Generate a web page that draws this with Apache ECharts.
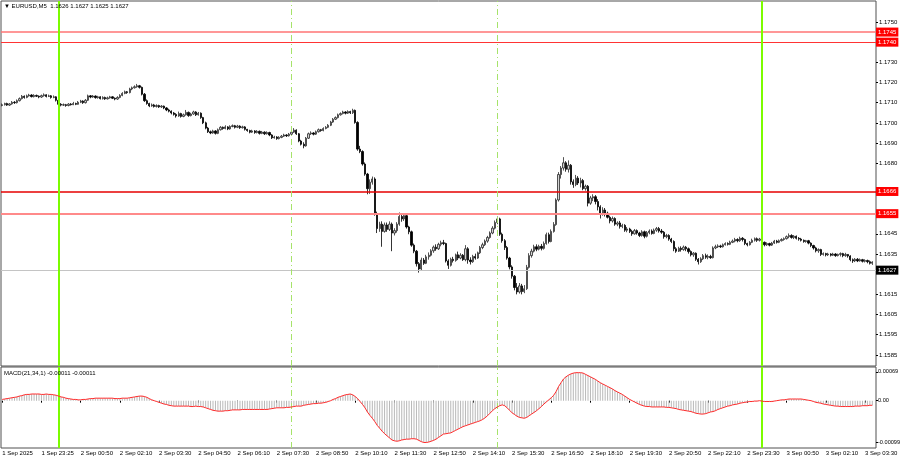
<!DOCTYPE html>
<html><head><meta charset="utf-8">
<script src="https://cdn.jsdelivr.net/npm/echarts@6/dist/echarts.min.js"></script>
<style>html,body{margin:0;padding:0;background:#fff}#c{width:900px;height:460px}</style>
</head><body><div id="c"></div>
<script>
// ---------- data ----------
const symbolTitle = 'EURUSD,M5';
const lastBar = [1.1626, 1.1627, 1.1625, 1.1627];      // O H L C of the last bar (header)
const macdTitle = 'MACD(21,34,1)';
const macdLast = [-0.00011, -0.00011];
const firstBarUTC = [2025, 8, 1, 22, 5];              // 1 Sep 2025 22:05
const missingBarUTC = [2025, 8, 2, 0, 5];             // bar absent from the feed
const priceTicks = [1.1750, 1.1730, 1.1720, 1.1710, 1.1700, 1.1690, 1.1680, 1.1645, 1.1635, 1.1615, 1.1605, 1.1595, 1.1585];
const macdTicks = [0.00069, 0, -0.00099];
const levelLines = [1.1745, 1.1740, 1.1666, 1.1655];
const bidPrice = 1.1627;
const dayLines = ['2 Sep 00:00', '3 Sep 00:00'];
const sessionLines = ['2 Sep 08:00', '2 Sep 15:00'];
// bars: [open, high, low, close]
const bars = [
[1.17086,1.17096,1.17082,1.17090],[1.17090,1.17100,1.17086,1.17096],[1.17096,1.17100,1.17084,1.17088],[1.17088,1.17098,1.17084,1.17094],
[1.17094,1.17108,1.17090,1.17102],[1.17102,1.17108,1.17094,1.17100],[1.17100,1.17116,1.17096,1.17110],[1.17110,1.17126,1.17106,1.17120],
[1.17120,1.17138,1.17116,1.17132],[1.17132,1.17136,1.17120,1.17126],[1.17126,1.17140,1.17122,1.17134],[1.17134,1.17144,1.17130,1.17138],
[1.17138,1.17142,1.17126,1.17130],[1.17130,1.17142,1.17126,1.17136],[1.17136,1.17140,1.17128,1.17132],[1.17132,1.17136,1.17122,1.17128],
[1.17128,1.17140,1.17124,1.17135],[1.17135,1.17146,1.17130,1.17139],[1.17139,1.17142,1.17126,1.17131],[1.17131,1.17140,1.17128,1.17134],
[1.17134,1.17138,1.17120,1.17126],[1.17126,1.17136,1.17122,1.17129],[1.17129,1.17132,1.17106,1.17112],[1.17112,1.17116,1.17086,1.17092],
[1.17092,1.17098,1.17082,1.17088],[1.17088,1.17096,1.17084,1.17090],[1.17090,1.17094,1.17080,1.17086],[1.17086,1.17098,1.17082,1.17093],
[1.17093,1.17098,1.17086,1.17090],[1.17090,1.17104,1.17088,1.17096],[1.17096,1.17100,1.17088,1.17092],[1.17092,1.17108,1.17090,1.17102],
[1.17102,1.17114,1.17098,1.17108],[1.17108,1.17112,1.17094,1.17100],[1.17100,1.17118,1.17096,1.17112],[1.17112,1.17140,1.17108,1.17134],
[1.17134,1.17138,1.17122,1.17128],[1.17128,1.17138,1.17124,1.17133],[1.17133,1.17136,1.17120,1.17125],[1.17125,1.17134,1.17120,1.17129],
[1.17129,1.17132,1.17116,1.17120],[1.17120,1.17132,1.17116,1.17126],[1.17126,1.17130,1.17114,1.17119],[1.17119,1.17130,1.17116,1.17124],
[1.17124,1.17134,1.17120,1.17129],[1.17129,1.17132,1.17118,1.17122],[1.17122,1.17126,1.17112,1.17118],[1.17118,1.17132,1.17114,1.17126],
[1.17126,1.17142,1.17122,1.17136],[1.17136,1.17152,1.17132,1.17146],[1.17146,1.17160,1.17142,1.17154],[1.17154,1.17158,1.17144,1.17150],
[1.17150,1.17174,1.17146,1.17168],[1.17168,1.17180,1.17162,1.17174],[1.17174,1.17186,1.17170,1.17179],[1.17179,1.17193,1.17174,1.17184],
[1.17184,1.17188,1.17170,1.17176],[1.17176,1.17180,1.17136,1.17142],[1.17142,1.17148,1.17104,1.17110],[1.17110,1.17116,1.17090,1.17096],
[1.17096,1.17100,1.17078,1.17084],[1.17084,1.17096,1.17080,1.17089],[1.17089,1.17094,1.17076,1.17081],[1.17081,1.17092,1.17076,1.17086],
[1.17086,1.17090,1.17074,1.17079],[1.17079,1.17088,1.17074,1.17083],[1.17083,1.17086,1.17068,1.17074],[1.17074,1.17078,1.17058,1.17064],
[1.17064,1.17070,1.17052,1.17058],[1.17058,1.17062,1.17042,1.17049],[1.17049,1.17054,1.17036,1.17042],[1.17042,1.17048,1.17026,1.17034],
[1.17034,1.17056,1.17030,1.17046],[1.17046,1.17050,1.17026,1.17032],[1.17032,1.17046,1.17028,1.17040],[1.17040,1.17064,1.17036,1.17052],
[1.17052,1.17056,1.17030,1.17036],[1.17036,1.17050,1.17032,1.17044],[1.17044,1.17060,1.17040,1.17054],[1.17054,1.17058,1.17034,1.17040],
[1.17040,1.17054,1.17036,1.17048],[1.17048,1.17052,1.17020,1.17026],[1.17026,1.17030,1.16994,1.17000],[1.17000,1.17006,1.16968,1.16974],
[1.16974,1.16980,1.16950,1.16956],[1.16956,1.16962,1.16944,1.16950],[1.16950,1.16966,1.16946,1.16960],[1.16960,1.16964,1.16942,1.16948],
[1.16948,1.16972,1.16944,1.16966],[1.16966,1.16984,1.16962,1.16978],[1.16978,1.16982,1.16966,1.16972],[1.16972,1.16988,1.16968,1.16980],
[1.16980,1.16984,1.16964,1.16970],[1.16970,1.16988,1.16966,1.16982],[1.16982,1.16992,1.16978,1.16986],[1.16986,1.16990,1.16972,1.16978],
[1.16978,1.16990,1.16974,1.16984],[1.16984,1.16988,1.16970,1.16976],[1.16976,1.16986,1.16972,1.16980],[1.16980,1.16984,1.16962,1.16968],
[1.16968,1.16970,1.16956,1.16962],[1.16962,1.16966,1.16948,1.16954],[1.16954,1.16966,1.16950,1.16960],[1.16960,1.16964,1.16946,1.16952],
[1.16952,1.16964,1.16948,1.16958],[1.16958,1.16962,1.16942,1.16948],[1.16948,1.16960,1.16944,1.16954],[1.16954,1.16958,1.16940,1.16946],
[1.16946,1.16958,1.16942,1.16952],[1.16952,1.16956,1.16934,1.16940],[1.16940,1.16944,1.16920,1.16926],[1.16926,1.16936,1.16922,1.16930],
[1.16930,1.16934,1.16916,1.16922],[1.16922,1.16934,1.16918,1.16928],[1.16928,1.16940,1.16924,1.16934],[1.16934,1.16946,1.16930,1.16940],
[1.16940,1.16944,1.16930,1.16936],[1.16936,1.16950,1.16932,1.16944],[1.16944,1.16960,1.16940,1.16954],[1.16954,1.16974,1.16950,1.16964],
[1.16964,1.16968,1.16940,1.16946],[1.16946,1.16950,1.16904,1.16910],[1.16910,1.16916,1.16888,1.16894],[1.16894,1.16904,1.16874,1.16886],
[1.16886,1.16930,1.16882,1.16924],[1.16924,1.16952,1.16920,1.16946],[1.16946,1.16958,1.16940,1.16950],[1.16950,1.16954,1.16938,1.16944],
[1.16944,1.16962,1.16940,1.16956],[1.16956,1.16972,1.16952,1.16966],[1.16966,1.16970,1.16956,1.16962],[1.16962,1.16978,1.16958,1.16972],
[1.16972,1.16984,1.16968,1.16978],[1.16978,1.16994,1.16974,1.16988],[1.16988,1.17010,1.16984,1.17004],[1.17004,1.17024,1.17000,1.17018],
[1.17018,1.17032,1.17014,1.17026],[1.17026,1.17046,1.17022,1.17040],[1.17040,1.17052,1.17036,1.17046],[1.17046,1.17060,1.17042,1.17054],
[1.17054,1.17058,1.17042,1.17048],[1.17048,1.17062,1.17044,1.17056],[1.17056,1.17060,1.17044,1.17050],[1.17050,1.17070,1.17044,1.17062],
[1.17062,1.17066,1.16996,1.17002],[1.17002,1.17008,1.16862,1.16870],[1.16870,1.16886,1.16850,1.16858],[1.16858,1.16864,1.16788,1.16796],
[1.16796,1.16804,1.16738,1.16746],[1.16746,1.16752,1.16646,1.16674],[1.16674,1.16720,1.16648,1.16706],[1.16706,1.16734,1.16694,1.16722],
[1.16722,1.16730,1.16540,1.16550],[1.16550,1.16560,1.16454,1.16476],[1.16476,1.16510,1.16460,1.16498],[1.16498,1.16512,1.16386,1.16462],
[1.16462,1.16506,1.16456,1.16494],[1.16494,1.16506,1.16460,1.16472],[1.16472,1.16512,1.16464,1.16498],[1.16498,1.16506,1.16364,1.16454],
[1.16454,1.16478,1.16442,1.16466],[1.16466,1.16508,1.16456,1.16498],[1.16498,1.16556,1.16490,1.16536],[1.16536,1.16546,1.16510,1.16524],
[1.16524,1.16550,1.16514,1.16540],[1.16540,1.16546,1.16476,1.16484],[1.16484,1.16490,1.16448,1.16460],[1.16460,1.16466,1.16386,1.16394],
[1.16394,1.16402,1.16354,1.16364],[1.16364,1.16370,1.16288,1.16302],[1.16302,1.16310,1.16258,1.16276],[1.16276,1.16332,1.16270,1.16320],
[1.16320,1.16330,1.16296,1.16304],[1.16304,1.16346,1.16300,1.16336],[1.16336,1.16358,1.16322,1.16344],[1.16344,1.16374,1.16338,1.16366],
[1.16366,1.16392,1.16356,1.16384],[1.16384,1.16398,1.16366,1.16376],[1.16376,1.16406,1.16370,1.16398],[1.16398,1.16416,1.16388,1.16406],
[1.16406,1.16420,1.16394,1.16402],[1.16402,1.16406,1.16308,1.16316],[1.16316,1.16324,1.16276,1.16294],[1.16294,1.16332,1.16288,1.16324],
[1.16324,1.16336,1.16308,1.16318],[1.16318,1.16352,1.16312,1.16346],[1.16346,1.16362,1.16320,1.16330],[1.16330,1.16354,1.16324,1.16344],
[1.16344,1.16350,1.16316,1.16322],[1.16322,1.16394,1.16314,1.16376],[1.16376,1.16384,1.16302,1.16320],[1.16320,1.16334,1.16298,1.16312],
[1.16312,1.16346,1.16306,1.16338],[1.16338,1.16352,1.16322,1.16330],[1.16330,1.16362,1.16326,1.16356],[1.16356,1.16390,1.16350,1.16382],
[1.16382,1.16406,1.16374,1.16396],[1.16396,1.16422,1.16390,1.16414],[1.16414,1.16440,1.16406,1.16432],[1.16432,1.16462,1.16426,1.16454],
[1.16454,1.16488,1.16448,1.16478],[1.16478,1.16516,1.16472,1.16506],[1.16506,1.16536,1.16498,1.16524],[1.16524,1.16530,1.16440,1.16448],
[1.16448,1.16456,1.16406,1.16416],[1.16416,1.16424,1.16370,1.16382],[1.16382,1.16390,1.16322,1.16330],[1.16330,1.16336,1.16274,1.16286],
[1.16286,1.16294,1.16228,1.16240],[1.16240,1.16246,1.16170,1.16184],[1.16184,1.16206,1.16150,1.16162],[1.16162,1.16206,1.16154,1.16192],
[1.16192,1.16202,1.16150,1.16164],[1.16164,1.16196,1.16156,1.16178],[1.16178,1.16296,1.16172,1.16284],[1.16284,1.16354,1.16278,1.16342],
[1.16342,1.16376,1.16332,1.16364],[1.16364,1.16396,1.16358,1.16386],[1.16386,1.16398,1.16364,1.16374],[1.16374,1.16396,1.16368,1.16388],
[1.16388,1.16400,1.16368,1.16378],[1.16378,1.16412,1.16372,1.16402],[1.16402,1.16456,1.16396,1.16446],[1.16446,1.16456,1.16402,1.16412],
[1.16412,1.16472,1.16408,1.16462],[1.16462,1.16508,1.16456,1.16496],[1.16496,1.16626,1.16490,1.16618],[1.16618,1.16756,1.16610,1.16744],
[1.16744,1.16786,1.16724,1.16776],[1.16776,1.16830,1.16764,1.16802],[1.16802,1.16810,1.16758,1.16770],[1.16770,1.16814,1.16754,1.16790],
[1.16790,1.16796,1.16694,1.16708],[1.16708,1.16720,1.16678,1.16694],[1.16694,1.16742,1.16686,1.16726],[1.16726,1.16736,1.16692,1.16702],
[1.16702,1.16728,1.16680,1.16714],[1.16714,1.16722,1.16666,1.16674],[1.16674,1.16694,1.16664,1.16686],[1.16686,1.16692,1.16586,1.16602],
[1.16602,1.16638,1.16594,1.16628],[1.16628,1.16646,1.16612,1.16634],[1.16634,1.16642,1.16596,1.16610],[1.16610,1.16622,1.16566,1.16584],
[1.16584,1.16592,1.16526,1.16546],[1.16546,1.16582,1.16540,1.16568],[1.16568,1.16578,1.16536,1.16552],[1.16552,1.16560,1.16526,1.16532],
[1.16532,1.16540,1.16502,1.16514],[1.16514,1.16536,1.16506,1.16526],[1.16526,1.16532,1.16490,1.16498],[1.16498,1.16512,1.16488,1.16504],
[1.16504,1.16514,1.16476,1.16486],[1.16486,1.16500,1.16478,1.16492],[1.16492,1.16498,1.16460,1.16468],[1.16468,1.16484,1.16458,1.16474],
[1.16474,1.16480,1.16454,1.16462],[1.16462,1.16470,1.16440,1.16450],[1.16450,1.16474,1.16446,1.16466],[1.16466,1.16472,1.16446,1.16454],
[1.16454,1.16460,1.16434,1.16442],[1.16442,1.16468,1.16436,1.16460],[1.16460,1.16466,1.16428,1.16438],[1.16438,1.16464,1.16432,1.16456],
[1.16456,1.16472,1.16448,1.16464],[1.16464,1.16472,1.16446,1.16452],[1.16452,1.16476,1.16448,1.16468],[1.16468,1.16484,1.16460,1.16476],
[1.16476,1.16484,1.16456,1.16464],[1.16464,1.16474,1.16450,1.16458],[1.16458,1.16464,1.16426,1.16436],[1.16436,1.16450,1.16428,1.16442],
[1.16442,1.16448,1.16416,1.16424],[1.16424,1.16430,1.16404,1.16412],[1.16412,1.16418,1.16364,1.16376],[1.16376,1.16384,1.16356,1.16364],
[1.16364,1.16386,1.16360,1.16378],[1.16378,1.16388,1.16362,1.16372],[1.16372,1.16392,1.16366,1.16384],[1.16384,1.16390,1.16364,1.16376],
[1.16376,1.16382,1.16352,1.16362],[1.16362,1.16368,1.16338,1.16346],[1.16346,1.16360,1.16336,1.16354],[1.16354,1.16358,1.16316,1.16324],
[1.16324,1.16330,1.16298,1.16312],[1.16312,1.16334,1.16306,1.16326],[1.16326,1.16350,1.16320,1.16342],[1.16342,1.16352,1.16326,1.16334],
[1.16334,1.16348,1.16324,1.16338],[1.16338,1.16346,1.16326,1.16332],[1.16332,1.16388,1.16328,1.16380],[1.16380,1.16396,1.16374,1.16386],
[1.16386,1.16398,1.16380,1.16390],[1.16390,1.16396,1.16380,1.16386],[1.16386,1.16402,1.16382,1.16396],[1.16396,1.16408,1.16392,1.16402],
[1.16402,1.16408,1.16392,1.16398],[1.16398,1.16416,1.16394,1.16408],[1.16408,1.16422,1.16404,1.16414],[1.16414,1.16430,1.16408,1.16422],
[1.16422,1.16428,1.16408,1.16416],[1.16416,1.16436,1.16410,1.16428],[1.16428,1.16434,1.16412,1.16422],[1.16422,1.16426,1.16394,1.16402],
[1.16402,1.16406,1.16388,1.16396],[1.16396,1.16414,1.16392,1.16408],[1.16408,1.16426,1.16404,1.16418],[1.16418,1.16432,1.16412,1.16426],
[1.16426,1.16432,1.16410,1.16418],[1.16418,1.16430,1.16412,1.16424],[1.16424,1.16428,1.16400,1.16408],[1.16408,1.16412,1.16388,1.16396],
[1.16396,1.16408,1.16390,1.16402],[1.16402,1.16406,1.16388,1.16394],[1.16394,1.16410,1.16390,1.16404],[1.16404,1.16420,1.16400,1.16414],
[1.16414,1.16420,1.16402,1.16408],[1.16408,1.16422,1.16404,1.16416],[1.16416,1.16428,1.16412,1.16422],[1.16422,1.16432,1.16416,1.16426],
[1.16426,1.16442,1.16422,1.16436],[1.16436,1.16452,1.16428,1.16442],[1.16442,1.16448,1.16426,1.16432],[1.16432,1.16444,1.16424,1.16438],
[1.16438,1.16442,1.16422,1.16428],[1.16428,1.16434,1.16416,1.16424],[1.16424,1.16430,1.16412,1.16418],[1.16418,1.16422,1.16406,1.16412],
[1.16412,1.16420,1.16406,1.16416],[1.16416,1.16420,1.16398,1.16404],[1.16404,1.16408,1.16384,1.16392],[1.16392,1.16396,1.16372,1.16380],
[1.16380,1.16386,1.16358,1.16366],[1.16366,1.16378,1.16356,1.16372],[1.16372,1.16376,1.16340,1.16348],[1.16348,1.16358,1.16342,1.16352],
[1.16352,1.16356,1.16338,1.16346],[1.16346,1.16356,1.16340,1.16350],[1.16350,1.16354,1.16338,1.16344],[1.16344,1.16356,1.16340,1.16350],
[1.16350,1.16354,1.16336,1.16342],[1.16342,1.16352,1.16338,1.16348],[1.16348,1.16358,1.16338,1.16352],[1.16352,1.16356,1.16334,1.16342],
[1.16342,1.16356,1.16336,1.16348],[1.16348,1.16350,1.16332,1.16340],[1.16340,1.16344,1.16314,1.16322],[1.16322,1.16328,1.16306,1.16316],
[1.16316,1.16330,1.16310,1.16324],[1.16324,1.16330,1.16310,1.16316],[1.16316,1.16328,1.16312,1.16322],[1.16322,1.16326,1.16308,1.16314],
[1.16314,1.16324,1.16308,1.16318],[1.16318,1.16322,1.16304,1.16312],[1.16312,1.16318,1.16298,1.16304],[1.16304,1.16314,1.16296,1.16310]
];
// MACD(21,34,1) main value per bar (signal with period 1 equals it)
const macd = [
0.00003,0.00004,0.00005,0.00006,0.00007,0.00008,0.00009,0.00011,0.00012,0.00014,
0.00015,0.00015,0.00016,0.00016,0.00016,0.00016,0.00015,0.00015,0.00016,0.00015,
0.00015,0.00014,0.00013,0.00011,0.00009,0.00008,0.00006,0.00005,0.00004,0.00003,
0.00003,0.00002,0.00002,0.00003,0.00003,0.00004,0.00005,0.00005,0.00006,0.00006,
0.00006,0.00006,0.00006,0.00006,0.00006,0.00006,0.00005,0.00005,0.00005,0.00006,
0.00006,0.00006,0.00007,0.00008,0.00009,0.00010,0.00011,0.00011,0.00010,0.00008,
0.00005,0.00002,0,-0.00002,-0.00004,-0.00006,-0.00008,-0.00009,-0.00011,-0.00012,
-0.00013,-0.00013,-0.00013,-0.00013,-0.00013,-0.00013,-0.00013,-0.00014,-0.00014,-0.00013,
-0.00014,-0.00014,-0.00015,-0.00017,-0.00019,-0.00021,-0.00023,-0.00024,-0.00025,-0.00025,
-0.00025,-0.00024,-0.00024,-0.00023,-0.00022,-0.00022,-0.00022,-0.00022,-0.00021,-0.00021,
-0.00021,-0.00021,-0.00021,-0.00021,-0.00021,-0.00021,-0.00021,-0.00021,-0.00021,-0.00020,
-0.00019,-0.00018,-0.00017,-0.00017,-0.00017,-0.00017,-0.00016,-0.00016,-0.00015,-0.00014,
-0.00013,-0.00013,-0.00013,-0.00011,-0.00010,-0.00009,-0.00008,-0.00007,-0.00007,-0.00006,
-0.00006,-0.00005,-0.00004,-0.00002,0,0.00003,0.00005,0.00008,0.00010,0.00012,
0.00014,0.00015,0.00016,0.00014,0.00010,0.00005,-0.00002,-0.00009,-0.00017,-0.00027,
-0.00035,-0.00042,-0.00050,-0.00059,-0.00066,-0.00073,-0.00079,-0.00084,-0.00089,-0.00094,
-0.00096,-0.00097,-0.00096,-0.00094,-0.00093,-0.00092,-0.00092,-0.00091,-0.00091,-0.00092,
-0.00095,-0.00098,-0.00100,-0.00100,-0.00099,-0.00097,-0.00095,-0.00092,-0.00088,-0.00084,
-0.00080,-0.00079,-0.00078,-0.00077,-0.00074,-0.00071,-0.00068,-0.00065,-0.00062,-0.00060,
-0.00058,-0.00056,-0.00054,-0.00052,-0.00050,-0.00048,-0.00045,-0.00041,-0.00036,-0.00030,
-0.00024,-0.00019,-0.00015,-0.00012,-0.00010,-0.00012,-0.00017,-0.00023,-0.00029,-0.00033,
-0.00037,-0.00040,-0.00041,-0.00042,-0.00040,-0.00036,-0.00032,-0.00028,-0.00024,-0.00019,
-0.00014,-0.00008,-0.00003,0.00002,0.00007,0.00013,0.00022,0.00034,0.00043,0.00052,
0.00057,0.00061,0.00064,0.00066,0.00067,0.00067,0.00067,0.00066,0.00063,0.00060,
0.00057,0.00054,0.00051,0.00047,0.00043,0.00040,0.00037,0.00034,0.00031,0.00028,
0.00024,0.00021,0.00018,0.00015,0.00011,0.00007,0.00003,0,-0.00003,-0.00006,
-0.00009,-0.00011,-0.00013,-0.00014,-0.00014,-0.00015,-0.00015,-0.00015,-0.00015,-0.00015,
-0.00015,-0.00016,-0.00016,-0.00017,-0.00018,-0.00019,-0.00021,-0.00022,-0.00023,-0.00024,
-0.00025,-0.00026,-0.00028,-0.00030,-0.00031,-0.00032,-0.00032,-0.00031,-0.00029,-0.00027,
-0.00026,-0.00024,-0.00021,-0.00019,-0.00017,-0.00015,-0.00013,-0.00012,-0.00010,-0.00009,
-0.00008,-0.00006,-0.00005,-0.00004,-0.00003,-0.00002,-0.00002,-0.00001,-0.00001,0,
-0.00001,-0.00002,-0.00002,-0.00002,-0.00002,-0.00001,0,0.00001,0.00002,0.00002,
0.00003,0.00004,0.00004,0.00004,0.00004,0.00004,0.00004,0.00003,0.00002,0.00001,
0,-0.00002,-0.00004,-0.00005,-0.00006,-0.00008,-0.00009,-0.00010,-0.00011,-0.00012,
-0.00013,-0.00013,-0.00014,-0.00014,-0.00014,-0.00014,-0.00014,-0.00014,-0.00013,-0.00013,
-0.00013,-0.00012,-0.00012,-0.00012,-0.00011,-0.00011
];

// ---------- time categories (M5 bars) ----------
const MONTHS = ['Jan','Feb','Mar','Apr','May','Jun','Jul','Aug','Sep','Oct','Nov','Dec'];
const pad = n => (n < 10 ? '0' : '') + n;
const fmt = d => d.getUTCDate() + ' ' + MONTHS[d.getUTCMonth()] + ' ' + pad(d.getUTCHours()) + ':' + pad(d.getUTCMinutes());
const cats = [];
let firstLabel = '';
{
  let t = Date.UTC(...firstBarUTC);
  const skip = Date.UTC(...missingBarUTC);
  const d0 = new Date(t);
  firstLabel = d0.getUTCDate() + ' ' + MONTHS[d0.getUTCMonth()] + ' ' + d0.getUTCFullYear();
  while (cats.length < bars.length + 1) {   // one empty slot of chart shift at the right
    if (t !== skip) cats.push(fmt(new Date(t)));
    t += 5 * 60000;
  }
}

const FONT = 'Liberation Sans';
const levelStyles = [
  {color: '#ff7474', width: 1.5},
  {color: '#ff3434', width: 1.2},
  {color: '#e60000', width: 1.6},
  {color: '#ff8a8a', width: 2}
];
const tagLabel = (bg) => ({
  show: true, position: 'end', distance: 0, backgroundColor: bg, color: '#fff',
  fontSize: 6, fontFamily: FONT, padding: [2, 2, 1, 2],
  formatter: p => Number(p.value).toFixed(4)
});

const hLines = levelLines.map((v, i) => ({
  yAxis: v, lineStyle: {color: levelStyles[i].color, width: levelStyles[i].width, type: 'solid'},
  label: tagLabel('#ff0000')
}));
hLines.unshift({yAxis: bidPrice, lineStyle: {color: '#c4c4c4', width: 1, type: 'solid'}, label: tagLabel('#000000')});

const vLines = () => [
  ...dayLines.map(c => ({xAxis: c, lineStyle: {color: '#7cfc00', width: 2, type: 'solid'}, label: {show: false}})),
  ...sessionLines.map(c => ({xAxis: c, lineStyle: {color: '#a6e36a', width: 1, type: [6, 3, 1, 3]}, label: {show: false}}))
];

const chart = echarts.init(document.getElementById('c'), null, {renderer: 'canvas'});
chart.setOption({
  animation: false,
  backgroundColor: '#ffffff',
  textStyle: {fontFamily: FONT},
  title: [
    {text: '▼ ' + symbolTitle + '  ' + lastBar.map(v => v.toFixed(4)).join(' '), left: 4, top: 3, padding: 0,
     textStyle: {fontSize: 6, fontWeight: 'normal', color: '#000', fontFamily: FONT}},
    {text: macdTitle + ' ' + macdLast.map(v => v.toFixed(5)).join(' '), left: 4, top: 370, padding: 0,
     textStyle: {fontSize: 6, fontWeight: 'normal', color: '#000', fontFamily: FONT}}
  ],
  grid: [
    {left: 1, top: 1, width: 875, height: 365, show: true, borderColor: '#505050', borderWidth: 1, backgroundColor: '#fff',
     containLabel: false, outerBoundsMode: 'none'},
    {left: 1, top: 367, width: 875, height: 81, show: true, borderColor: '#505050', borderWidth: 1, backgroundColor: '#fff',
     containLabel: false, outerBoundsMode: 'none'}
  ],
  xAxis: [
    {type: 'category', gridIndex: 0, data: cats, boundaryGap: true,
     axisLine: {show: false}, axisTick: {show: false}, axisLabel: {show: false}, splitLine: {show: false}},
    {type: 'category', gridIndex: 1, data: cats, boundaryGap: true,
     axisLine: {show: false},
     axisTick: {show: true, interval: 15, alignWithLabel: true, length: 2, lineStyle: {color: '#000'}},
     axisLabel: {show: true, interval: 15, align: 'left', margin: 2, fontSize: 6, color: '#000', fontFamily: FONT,
                 formatter: (v, i) => (i === 0 ? firstLabel : v)},
     splitLine: {show: false}}
  ],
  yAxis: [
    {type: 'value', gridIndex: 0, position: 'right', min: 1.15795, max: 1.17604, scale: true,
     axisLine: {show: false}, splitLine: {show: false},
     axisTick: {show: true, length: 2, lineStyle: {color: '#000'}, customValues: priceTicks},
     axisLabel: {show: true, margin: 3, fontSize: 6, color: '#000', fontFamily: FONT, customValues: priceTicks,
                 formatter: v => v.toFixed(4)}},
    {type: 'value', gridIndex: 1, position: 'right', min: -0.001132, max: 0.000806,
     axisLine: {show: false}, splitLine: {show: false},
     axisTick: {show: true, length: 2, lineStyle: {color: '#000'}, customValues: macdTicks},
     axisLabel: {show: true, margin: 2, fontSize: 5.6, color: '#000', fontFamily: FONT, customValues: macdTicks,
                 formatter: v => (Math.abs(v) < 1e-9 ? '0.00' : v.toFixed(5))}}
  ],
  series: [
    {type: 'candlestick', xAxisIndex: 0, yAxisIndex: 0, barWidth: 1.8,
     data: bars.map(b => [b[0], b[3], b[2], b[1]]),
     itemStyle: {color: '#d4d4d4', color0: '#000000', borderColor: '#2a2a2a', borderColor0: '#000000', borderWidth: 0.8},
     markLine: {silent: true, symbol: 'none', animation: false, precision: 5, data: [...hLines, ...vLines()]}},
    {type: 'bar', xAxisIndex: 1, yAxisIndex: 1, barWidth: 1, data: macd,
     itemStyle: {color: '#b8b8b8'},
     markLine: {silent: true, symbol: 'none', animation: false, precision: 5, data: vLines()}},
    {type: 'line', xAxisIndex: 1, yAxisIndex: 1, data: macd, symbol: 'none', smooth: false,
     lineStyle: {color: '#ff2a2a', width: 1}, z: 5}
  ]
});
</script>
</body></html>
